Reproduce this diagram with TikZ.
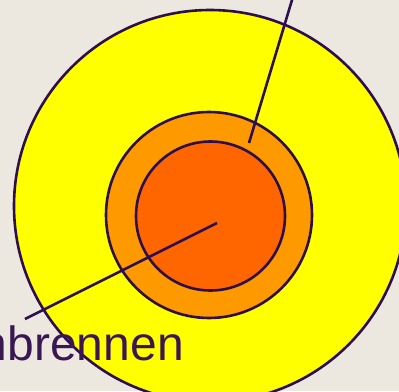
\documentclass[tikz,border=0pt]{standalone}
\usepackage{fontspec}
\setmainfont{Liberation Sans}
\definecolor{bg}{HTML}{ECE8E0}
\definecolor{ink}{HTML}{2E0F4E}
\definecolor{txt}{HTML}{3A1752}
\definecolor{ylw}{HTML}{FFFF00}
\definecolor{org}{HTML}{FF9900}
\definecolor{red}{HTML}{FF6600}
\begin{document}
\begin{tikzpicture}[x=1pt,y=-1pt,
  ring/.style={circle, draw=ink, line width=2.6pt, inner sep=0pt},
  pointer/.style={draw=ink, line width=2.6pt},
  label/.style={font=\fontsize{48}{48}\selectfont, text=txt, inner sep=0pt}]
\useasboundingbox (0,0) rectangle (399,391);
\fill[bg] (0,0) rectangle (399,391);
\node[ring, fill=ylw, minimum size=392pt] (outer) at (210,206) {};
\node[ring, fill=org, minimum size=206pt] (mid) at (209,215) {};
\node[ring, fill=red, minimum size=149pt] (core) at (210.5,216) {};
\coordinate (coreend) at (217,223);
\coordinate (labelend) at (25,319);
\coordinate (midend) at (249,143);
\coordinate (topend) at (295,-10);
\draw[pointer] (coreend) -- (labelend);
\draw[pointer] (midend) -- (topend);
\node[label, anchor=base east] (lbl) at (184,360) {nbrennen};
\end{tikzpicture}
\end{document}
